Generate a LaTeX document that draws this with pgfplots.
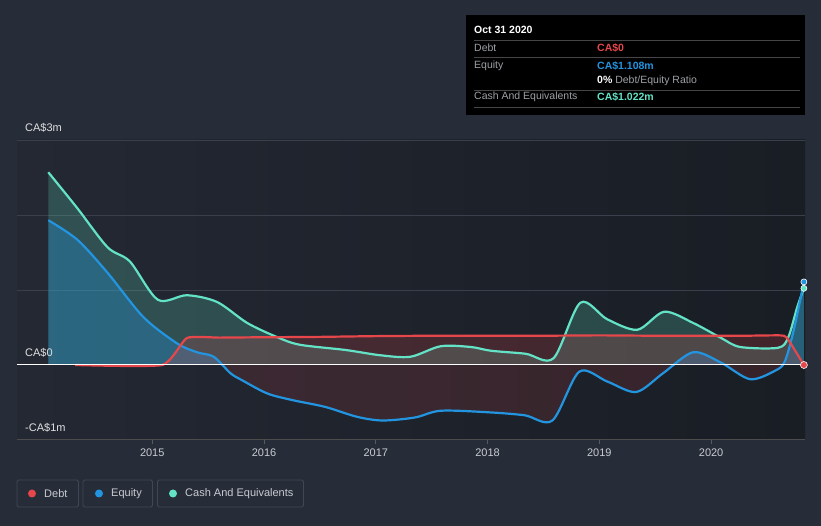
\documentclass[border=0pt]{standalone}
\usepackage{pgfplots}
\pgfplotsset{compat=1.18}
\usepgfplotslibrary{fillbetween}
\usepackage{fontspec}
\setmainfont{Liberation Sans}

\definecolor{bgc}{HTML}{262C38}
\definecolor{plotl}{HTML}{232833}
\definecolor{plotr}{HTML}{191D24}
\definecolor{gridc}{HTML}{3A404B}
\definecolor{debtc}{HTML}{E5474B}
\definecolor{eqc}{HTML}{2394DF}
\definecolor{cashc}{HTML}{63E2C6}
\definecolor{txtc}{HTML}{C8CCD2}
\definecolor{ttlab}{HTML}{9DA0A6}
\definecolor{boxc}{HTML}{404652}
\pagecolor{bgc}

\begin{document}
\begin{tikzpicture}
\path (0pt,0pt) rectangle (821pt,526pt);

\begin{axis}[
  at={(17pt,86pt)}, anchor=south west,
  width=788pt, height=300pt, scale only axis,
  xmin=2013.79, xmax=2020.84, ymin=-1, ymax=3,
  axis background/.style={left color=plotl, right color=plotr},
  axis line style={draw=none},
  ytick={1,2,3}, yticklabels={}, ytick style={draw=none},
  ymajorgrids, major grid style={color=gridc, line width=0.8pt},
  xtick={2015,2016,2017,2018,2019,2020},
  xticklabels={2015,2016,2017,2018,2019,2020},
  xtick pos=bottom, tick align=outside, major tick length=4pt,
  xtick style={color=gray!70!black, line width=0.8pt},
  xticklabel style={font=\fontsize{11}{13}\selectfont, text=txtc, yshift=-1pt},
  clip=false,
]
\draw[color=gray!60!black, line width=1pt] (axis cs:2013.79,-1) -- (axis cs:2020.84,-1);

\addplot[draw=none, name path=zeroa, forget plot] coordinates {(2014.07,0) (2020.83,0)};
\addplot[draw=none, name path=zerob, forget plot] coordinates {(2014.31,0) (2020.83,0)};

% cash and equivalents
\addplot[name path=cash, color=cashc, line width=2.2pt, smooth, tension=0.5] coordinates {
(2014.07,2.57) (2014.33,2.09) (2014.60,1.57) (2014.80,1.38) (2015.05,0.87)
(2015.31,0.93) (2015.58,0.84) (2015.85,0.56) (2016.12,0.37) (2016.32,0.27)
(2016.73,0.20) (2017.04,0.13) (2017.31,0.11) (2017.58,0.25) (2017.85,0.24)
(2018.03,0.19) (2018.34,0.15) (2018.59,0.09) (2018.83,0.83) (2019.07,0.61)
(2019.34,0.47) (2019.58,0.71) (2019.84,0.56) (2020.09,0.36) (2020.26,0.24)
(2020.60,0.23) (2020.69,0.37) (2020.77,0.77) (2020.83,1.022)
};
% equity
\addplot[name path=eq, color=eqc, line width=2.2pt, smooth, tension=0.5] coordinates {
(2014.07,1.93) (2014.33,1.67) (2014.60,1.23) (2014.92,0.64) (2015.22,0.29)
(2015.40,0.17) (2015.55,0.11) (2015.70,-0.11) (2015.80,-0.20) (2016.03,-0.38)
(2016.26,-0.47) (2016.55,-0.56) (2016.83,-0.69) (2017.06,-0.74) (2017.35,-0.70)
(2017.58,-0.61) (2018.00,-0.63) (2018.33,-0.67) (2018.58,-0.74) (2018.82,-0.09)
(2019.07,-0.22) (2019.33,-0.36) (2019.57,-0.11) (2019.84,0.17) (2020.09,0.03)
(2020.35,-0.19) (2020.58,-0.07) (2020.66,0.05) (2020.74,0.47) (2020.83,1.108)
};
% debt
\addplot[name path=debt, color=debtc, line width=2.2pt, smooth, tension=0.3] coordinates {
(2014.31,0) (2015.09,0) (2015.31,0.36) (2015.6,0.365) (2016,0.37) (2016.5,0.375)
(2017,0.385) (2017.5,0.39) (2018,0.39) (2018.5,0.39) (2019,0.395) (2019.5,0.39)
(2020,0.39) (2020.3,0.39) (2020.62,0.395) (2020.68,0.36) (2020.83,0)
};

\addplot[cashc, fill opacity=0.22, draw=none] fill between[of=cash and zeroa];
\addplot[draw=none] fill between[of=eq and zeroa, split,
  every even segment/.style={eqc, fill opacity=0.33},
  every odd segment/.style={debtc, fill opacity=0.14}];
\addplot[debtc, fill opacity=0.2, draw=none] fill between[of=debt and zerob];

\draw[white, line width=1pt] (axis cs:2013.79,0) -- (axis cs:2020.84,0);

\addplot[only marks, mark=*, mark size=3pt, color=eqc, mark options={draw=white, line width=0.6pt}] coordinates {(2020.83,1.108)};
\addplot[only marks, mark=*, mark size=3pt, color=cashc, mark options={draw=white, line width=0.6pt}] coordinates {(2020.83,1.022)};
\addplot[only marks, mark=*, mark size=3.5pt, color=debtc, mark options={draw=white, line width=0.6pt}] coordinates {(2020.83,0)};
\end{axis}

% y labels
\begin{scope}[every node/.style={font=\fontsize{11}{13}\selectfont, text=white!88!black, anchor=west, inner sep=0pt}]
\node at (25pt,398pt) {CA\$3m};
\node at (25pt,173pt) {CA\$0};
\node at (25pt,98pt) {-CA\$1m};
\end{scope}

% tooltip
\fill[black] (466pt,411pt) rectangle (805pt,511pt);
\foreach \yy in {486,469,436,419} \draw[gray!55!black, line width=0.8pt] (474pt,\yy pt) -- (800pt,\yy pt);
\begin{scope}[every node/.style={font=\fontsize{10.5}{12}\selectfont, anchor=west, inner sep=0pt}]
\node[text=white, font=\fontsize{10.5}{12}\selectfont\bfseries] at (474pt,496pt) {Oct 31 2020};
\node[text=ttlab] at (474pt,478pt) {Debt};
\node[text=debtc, font=\fontsize{10.5}{12}\selectfont\bfseries] at (597pt,478pt) {CA\$0};
\node[text=ttlab] at (474pt,460pt) {Equity};
\node[text=eqc, font=\fontsize{10.5}{12}\selectfont\bfseries] at (597pt,460pt) {CA\$1.108m};
\node[text=ttlab] at (597pt,445pt) {\textcolor{white}{\bfseries 0\%} Debt/Equity Ratio};
\node[text=ttlab] at (474pt,429pt) {Cash And Equivalents};
\node[text=cashc, font=\fontsize{10.5}{12}\selectfont\bfseries] at (597pt,429pt) {CA\$1.022m};
\end{scope}

% legend
\begin{scope}[every node/.style={font=\fontsize{11}{13}\selectfont, text=txtc, anchor=west, inner sep=0pt}]
\draw[boxc, line width=0.8pt, rounded corners=1.5pt] (17pt,19pt) rectangle (78.5pt,46pt);
\draw[boxc, line width=0.8pt, rounded corners=1.5pt] (83pt,19pt) rectangle (152.5pt,46pt);
\draw[boxc, line width=0.8pt, rounded corners=1.5pt] (157.5pt,19pt) rectangle (303.5pt,46pt);
\fill[debtc] (32pt,32.5pt) circle (4pt);
\fill[eqc] (99pt,32.5pt) circle (4pt);
\fill[cashc] (173pt,32.5pt) circle (4pt);
\node at (44pt,32.5pt) {Debt};
\node at (111pt,32.5pt) {Equity};
\node at (185pt,32.5pt) {Cash And Equivalents};
\end{scope}
\end{tikzpicture}
\end{document}
